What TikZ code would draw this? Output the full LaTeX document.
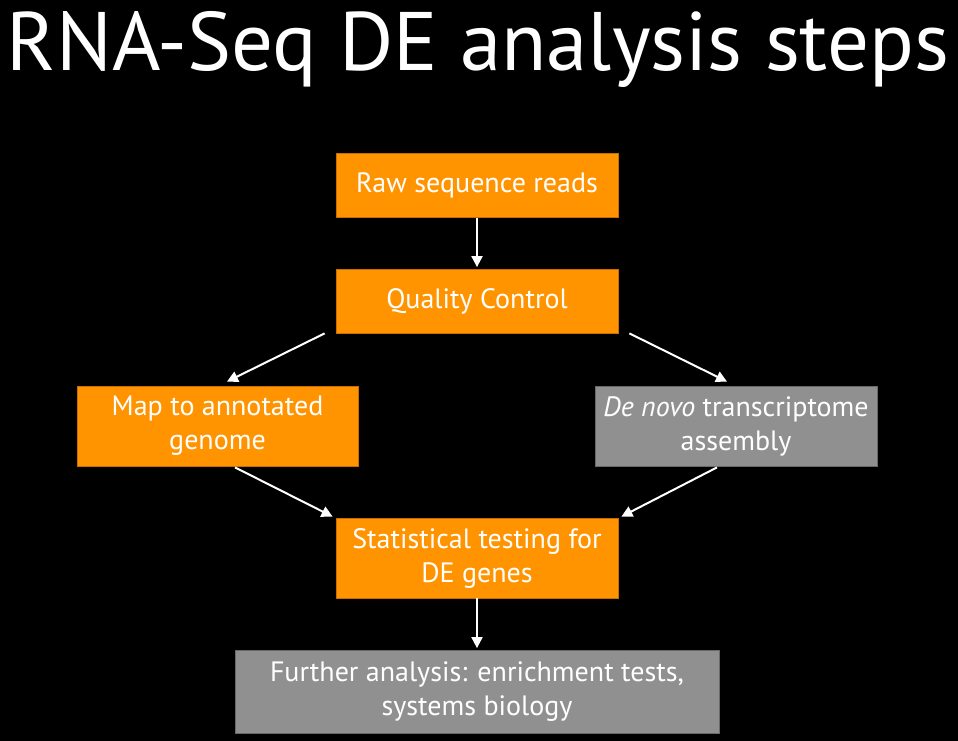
\documentclass[tikz,border=0pt]{standalone}
\usepackage{fontspec}
\setmainfont{PT Sans}
\usetikzlibrary{arrows.meta,calc}
\definecolor{boxorange}{RGB}{255,148,0}
\definecolor{orangeedge}{RGB}{200,110,0}
\definecolor{boxgray}{RGB}{144,144,144}
\definecolor{grayedge}{RGB}{105,105,105}
\begin{document}
\begin{tikzpicture}[x=1pt,y=-1pt,
  boxbase/.style={rectangle,line width=0.8pt,text=white,align=center,inner sep=0pt,
    font=\fontsize{28}{34}\selectfont},
  orangebox/.style={boxbase,fill=boxorange,draw=orangeedge},
  graybox/.style={boxbase,fill=boxgray,draw=grayedge},
  flow/.style={draw=white,line width=2pt,-{Triangle[length=11pt,width=11pt]}}]
\fill[black] (0,0) rectangle (958,741);
\useasboundingbox (0,0) rectangle (958,741);
\node[anchor=base,text=white,font=\fontsize{83}{90}\selectfont] (title) at (478,71) {RNA-Seq DE analysis steps};
\node[orangebox,minimum width=282pt,minimum height=64pt] (raw) at (477,185.5) {Raw sequence reads};
\node[orangebox,minimum width=282pt,minimum height=64pt] (qc) at (477,301) {Quality Control};
\node[orangebox,minimum width=281pt,minimum height=80pt] (map) at (217.5,426) {Map to annotated\\genome};
\node[graybox,minimum width=282pt,minimum height=80pt] (denovo) at (736,426) {\textit{De novo} transcriptome\\assembly};
\node[orangebox,minimum width=282pt,minimum height=80pt] (stat) at (477,558) {Statistical testing for\\DE genes};
\node[graybox,minimum width=484pt,minimum height=83pt] (further) at (477,691.5) {Further analysis: enrichment tests,\\systems biology};
\draw[flow,shorten >=1.5pt] (raw.south) -- (qc.north);
\draw[flow] ($(qc.south west)+(-11,0)$) -- ($(map.north)+(9.5,-4)$);
\draw[flow] ($(qc.south east)+(11,0)$) -- ($(denovo.north)+(-9,-4)$);
\draw[flow] ($(map.south)+(17.5,1)$) -- ($(stat.north west)+(-3,-1)$);
\draw[flow] ($(denovo.south)+(-19,1)$) -- ($(stat.north east)+(3,-1)$);
\draw[flow,shorten >=1.5pt] (stat.south) -- (further.north);
\end{tikzpicture}
\end{document}
